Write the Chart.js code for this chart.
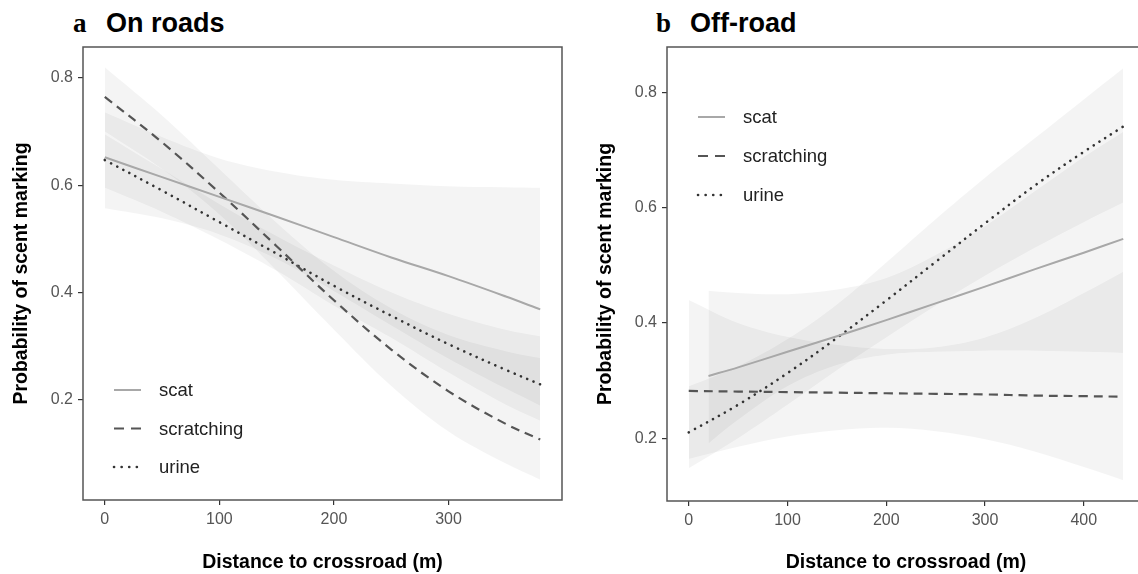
<!DOCTYPE html>
<html>
<head>
<meta charset="utf-8">
<script src="https://cdn.jsdelivr.net/npm/chart.js@4.4.1/dist/chart.umd.min.js"></script>
<style>
    body { margin: 0; width: 1138px; height: 574px; overflow: hidden; background: #fff; position: relative; font-family: "Liberation Sans", Arial, sans-serif; }
    canvas { position: absolute; top: 0; }
    #chartA { left: 0; }
    #chartB { left: 584px; }
    .tag, .name { position: absolute; top: 8px; height: 30px; line-height: 30px; font-size: 27px; font-weight: bold; color: #000; white-space: nowrap; }
    .tag { font-family: "Liberation Serif", "Times New Roman", serif; }
</style>
</head>
<body>
<span class="tag" style="left:73px">a</span><span class="name" style="left:106px">On roads</span>
<span class="tag" style="left:656px">b</span><span class="name" style="left:690px">Off-road</span>
<canvas id="chartA" width="563" height="574"></canvas>
<canvas id="chartB" width="562" height="574"></canvas>
<script>
// a: on roads
const roadDist = [0, 50, 100, 150, 200, 250, 300, 350, 380];
const roadScat = [0.652, 0.615, 0.578, 0.541, 0.503, 0.465, 0.430, 0.392, 0.368];
const roadScatLo = [0.557, 0.538, 0.508, 0.462, 0.402, 0.338, 0.276, 0.220, 0.188];
const roadScatHi = [0.736, 0.690, 0.650, 0.625, 0.610, 0.603, 0.598, 0.596, 0.595];
const roadScratch = [0.765, 0.680, 0.586, 0.486, 0.385, 0.293, 0.215, 0.154, 0.125];
const roadScratchLo = [0.700, 0.630, 0.545, 0.440, 0.330, 0.225, 0.140, 0.080, 0.050];
const roadScratchHi = [0.820, 0.730, 0.630, 0.530, 0.440, 0.370, 0.320, 0.290, 0.277];
const roadUrine = [0.647, 0.590, 0.531, 0.472, 0.412, 0.356, 0.303, 0.255, 0.228];
const roadUrineLo = [0.595, 0.550, 0.498, 0.440, 0.375, 0.315, 0.250, 0.190, 0.160];
const roadUrineHi = [0.695, 0.630, 0.565, 0.505, 0.450, 0.400, 0.360, 0.330, 0.318];

// b: off-road
const offDist = [0, 50, 100, 150, 200, 250, 300, 350, 400, 440];
const offScatDist = [20, 50, 100, 150, 200, 250, 300, 350, 400, 440];
const offScat = [0.308, 0.323, 0.350, 0.377, 0.405, 0.434, 0.463, 0.493, 0.522, 0.546];
const offScatLo = [0.191, 0.232, 0.290, 0.327, 0.345, 0.350, 0.352, 0.352, 0.350, 0.348];
const offScatHi = [0.456, 0.452, 0.450, 0.458, 0.478, 0.518, 0.568, 0.628, 0.688, 0.732];
const offScratch = [0.282, 0.281, 0.280, 0.279, 0.278, 0.277, 0.276, 0.274, 0.273, 0.272];
const offScratchLo = [0.164, 0.185, 0.203, 0.214, 0.218, 0.212, 0.198, 0.177, 0.150, 0.127];
const offScratchHi = [0.440, 0.400, 0.376, 0.362, 0.355, 0.358, 0.375, 0.408, 0.452, 0.489];
const offUrine = [0.210, 0.258, 0.313, 0.374, 0.439, 0.506, 0.573, 0.638, 0.697, 0.741];
const offUrineLo = [0.148, 0.200, 0.258, 0.318, 0.375, 0.430, 0.482, 0.530, 0.575, 0.609];
const offUrineHi = [0.290, 0.325, 0.372, 0.432, 0.505, 0.580, 0.652, 0.720, 0.788, 0.842];

const roadTicks = [0, 100, 200, 300];
const offTicks = [0, 100, 200, 300, 400];
const probTicks = [0.2, 0.4, 0.6, 0.8];

const styles = {
    scat: { color: '#a8a8a8', width: 2, dash: [], legendDash: [] },
    scratching: { color: '#555555', width: 2.2, dash: [9, 6], legendDash: [10, 7] },
    urine: { color: '#333333', width: 2.6, dash: [0.1, 6.8], legendDash: [0.1, 7.5] },
};
const ribbonFill = 'rgba(0, 0, 0, 0.045)';

const pts = (xs, ys) => xs.map((x, i) => ({ x, y: ys[i] }));

function ribbon(xs, lo, hi) {
    return [
        { data: pts(xs, hi), fill: '+1', backgroundColor: ribbonFill, borderWidth: 0, order: 2 },
        { data: pts(xs, lo), fill: false, borderWidth: 0, order: 2 },
    ];
}

function line(name, xs, ys) {
    const s = styles[name];
    return {
        label: name, legend: true, data: pts(xs, ys), fill: false,
        borderColor: s.color, borderWidth: s.width, borderDash: s.dash,
        borderCapStyle: name === 'urine' ? 'round' : 'butt', order: 0,
    };
}

const framePlugin = {
    id: 'frame',
    afterDraw(chart) {
        const { ctx, chartArea: a } = chart;
        ctx.save();
        ctx.strokeStyle = '#555';
        ctx.lineWidth = 1.5;
        ctx.strokeRect(a.left, a.top, a.right - a.left, a.bottom - a.top);
        ctx.restore();
    }
};

const legendPlugin = {
    id: 'insideLegend',
    afterDraw(chart, args, opts) {
        const { ctx, chartArea: a } = chart;
        const items = chart.data.datasets.filter(d => d.legend);
        ctx.save();
        items.forEach((d, i) => {
            const y = opts.anchor === 'bottom'
                ? a.bottom - opts.offset - (items.length - 1 - i) * opts.spacing
                : a.top + opts.offset + i * opts.spacing;
            const s = styles[d.label];
            ctx.strokeStyle = s.color;
            ctx.lineWidth = s.width;
            ctx.setLineDash(s.legendDash);
            ctx.lineCap = d.label === 'urine' ? 'round' : 'butt';
            ctx.beginPath();
            ctx.moveTo(a.left + 31, y);
            ctx.lineTo(a.left + 58, y);
            ctx.stroke();
            ctx.setLineDash([]);
            ctx.fillStyle = '#222';
            ctx.font = '18.5px "Liberation Sans", Arial, sans-serif';
            ctx.textBaseline = 'middle';
            ctx.fillText(d.label, a.left + 76, y + 1);
        });
        ctx.restore();
    }
};

function makePanel(id, datasets, x, y, legendOpts, xHeight) {
    return new Chart(document.getElementById(id), {
        type: 'line',
        data: { datasets },
        plugins: [framePlugin, legendPlugin],
        options: {
            responsive: false,
            animation: false,
            layout: { padding: { top: 47, left: 0, right: 1, bottom: 0 } },
            elements: { point: { radius: 0 }, line: { tension: 0.35 } },
            plugins: { legend: { display: false }, title: { display: false }, tooltip: { enabled: false }, insideLegend: legendOpts },
            scales: {
                x: {
                    type: 'linear', min: x.min, max: x.max,
                    afterBuildTicks: s => { s.ticks = x.ticks.map(v => ({ value: v })); },
                    afterFit: s => { s.height = xHeight; },
                    grid: { drawOnChartArea: false, drawTicks: true, tickLength: 5, color: '#333', lineWidth: 1.2 },
                    border: { display: false },
                    ticks: { color: '#555', padding: 5, font: { size: 16, family: '"Liberation Sans", Arial, sans-serif' } },
                    title: { display: true, text: 'Distance to crossroad (m)', color: '#000', padding: { top: 4, bottom: 0 },
                             font: { size: 19.5, weight: 'bold', family: '"Liberation Sans", Arial, sans-serif' } },
                },
                y: {
                    type: 'linear', min: y.min, max: y.max,
                    afterBuildTicks: s => { s.ticks = probTicks.map(v => ({ value: v })); },
                    afterFit: s => { s.width = 83; },
                    grid: { drawOnChartArea: false, drawTicks: true, tickLength: 5, color: '#333', lineWidth: 1.2 },
                    border: { display: false },
                    ticks: { color: '#555', padding: 5, callback: v => v.toFixed(1), font: { size: 16, family: '"Liberation Sans", Arial, sans-serif' } },
                    title: { display: true, text: 'Probability of scent marking', color: '#000', padding: { top: 10, bottom: 0 },
                             font: { size: 19.5, weight: 'bold', family: '"Liberation Sans", Arial, sans-serif' } },
                },
            },
        },
    });
}

makePanel('chartA', [
    line('scat', roadDist, roadScat),
    line('scratching', roadDist, roadScratch),
    line('urine', roadDist, roadUrine),
    ...ribbon(roadDist, roadScatLo, roadScatHi),
    ...ribbon(roadDist, roadScratchLo, roadScratchHi),
    ...ribbon(roadDist, roadUrineLo, roadUrineHi),
], { min: -19, max: 399, ticks: roadTicks }, { min: 0.012, max: 0.858 },
   { anchor: 'bottom', offset: 33, spacing: 38.5 }, 74);

makePanel('chartB', [
    line('scat', offScatDist, offScat),
    line('scratching', offDist, offScratch),
    line('urine', offDist, offUrine),
    ...ribbon(offScatDist, offScatLo, offScatHi),
    ...ribbon(offDist, offScratchLo, offScratchHi),
    ...ribbon(offDist, offUrineLo, offUrineHi),
], { min: -22, max: 462, ticks: offTicks }, { min: 0.091, max: 0.879 },
   { anchor: 'top', offset: 70, spacing: 39 }, 73);
</script>
</body>
</html>
